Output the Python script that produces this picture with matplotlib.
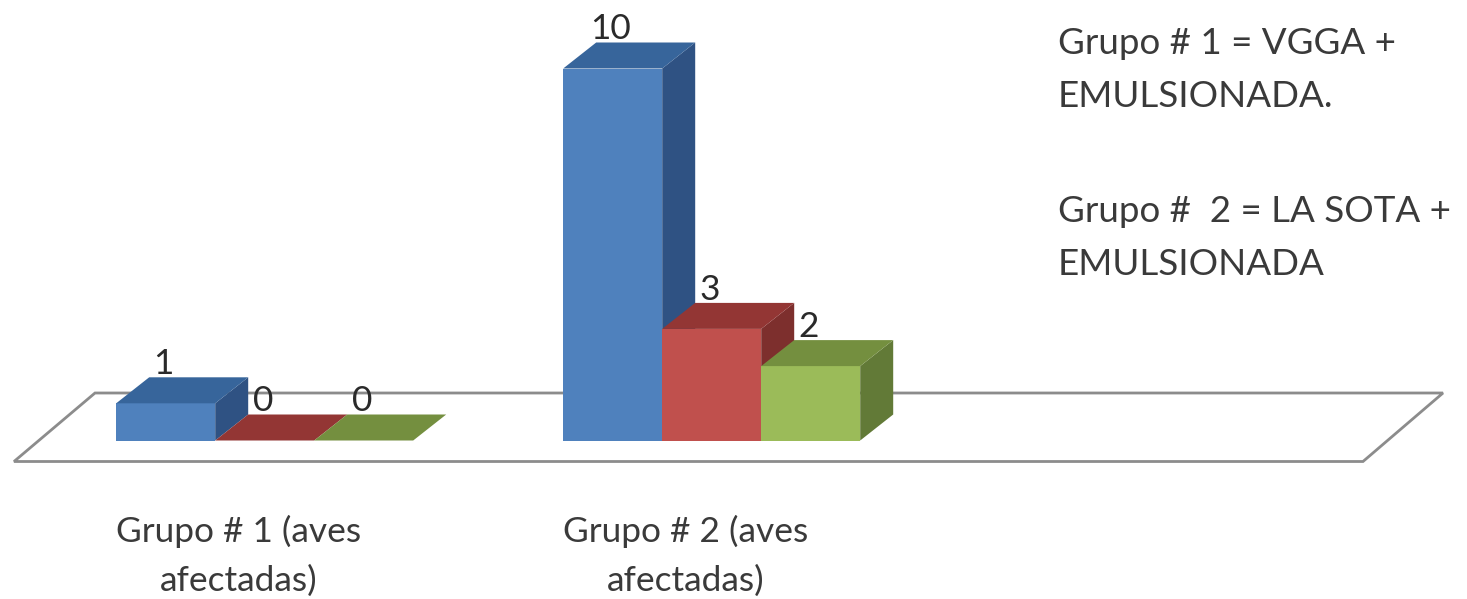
import matplotlib.pyplot as plt
from matplotlib.patches import Polygon

plt.rcParams['font.family'] = ['Lato', 'DejaVu Sans']

groups = ['Grupo # 1 (aves\nafectadas)', 'Grupo # 2 (aves\nafectadas)']
serie_a = [1, 10]
serie_b = [0, 3]
serie_c = [0, 2]
notas = ['Grupo # 1 = VGGA +\nEMULSIONADA.', 'Grupo #  2 = LA SOTA +\nEMULSIONADA']

W, H = 1467, 599
BAR_PX = 99.0      # bar width in pixels
UNIT_PX = 37.2     # one count in pixels
FLOOR_Y = 440.5    # pixel row of the bar bases
GROUP_STEP = 447 / BAR_PX
FIRST_X = 116.2 / BAR_PX
DX = 33 / BAR_PX   # depth offset, data units
DY = 26 / UNIT_PX
FS = 25.4

colors = [('#4f81bd', '#2f5283', '#37659b'),
          ('#c0504d', '#7d2f2d', '#933634'),
          ('#9bbb59', '#627a37', '#748f3f')]

fig = plt.figure(figsize=(W / 100, H / 100), dpi=100)
ax = fig.add_axes([0, 0, 1, 1])
ax.set_xlim(0, W / BAR_PX)
ax.set_ylim(-(H - FLOOR_Y) / UNIT_PX, FLOOR_Y / UNIT_PX)
ax.axis('off')


def px(x, y):
    return x / BAR_PX, (FLOOR_Y - y) / UNIT_PX


# floor of the 3d box
ax.add_patch(Polygon([px(14, 461.5), px(1363, 461.5), px(1443, 393), px(95, 393)],
                     closed=True, fc='white', ec='#8c8c8c', lw=2.0, zorder=1))

for s, (vals, (front, side, top)) in enumerate(zip([serie_a, serie_b, serie_c], colors)):
    for g, v in enumerate(vals):
        x0 = FIRST_X + g * GROUP_STEP + s
        x1 = x0 + 1
        ax.bar(x0, v, width=1, align='edge', color=front, zorder=3 + s)
        ax.add_patch(Polygon([(x1, 0), (x1 + DX, DY), (x1 + DX, v + DY), (x1, v)],
                             closed=True, fc=side, ec='none', zorder=3 + s))
        ax.add_patch(Polygon([(x0, v), (x0 + DX, v + DY), (x1 + DX, v + DY), (x1, v)],
                             closed=True, fc=top, ec='none', zorder=3 + s))
        ax.text(x0 + 0.48, v + DY - 0.08, str(v), ha='center', va='bottom',
                fontsize=FS, color='#2a2a2a', zorder=10)

for g, label in enumerate(groups):
    xc = FIRST_X + g * GROUP_STEP + 1.24
    ax.text(xc, -74 / UNIT_PX, label, ha='center', va='top', fontsize=FS,
            color='#3a3a3a', linespacing=1.63)

for nota, y in zip(notas, [27, 195]):
    xn, yn = px(1058, y)
    ax.text(xn, yn, nota, ha='left', va='top', fontsize=26.5, color='#3a3a3a',
            linespacing=1.75)

fig.savefig('out.png', dpi=100)
